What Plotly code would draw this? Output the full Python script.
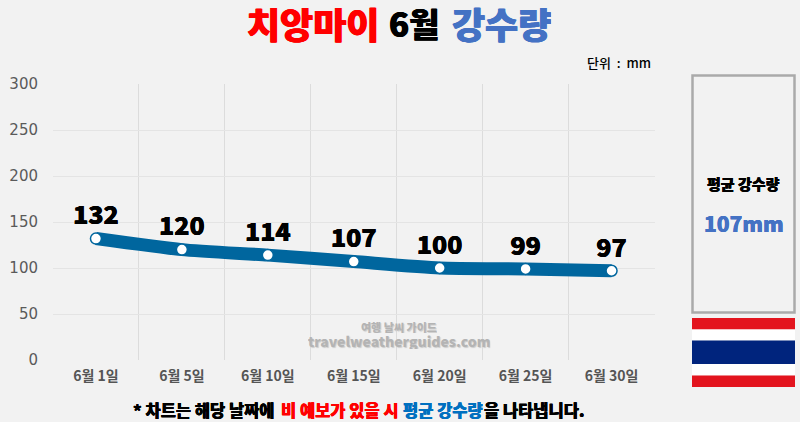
import plotly.graph_objects as go

days = ["6월 1일", "6월 5일", "6월 10일", "6월 15일", "6월 20일", "6월 25일", "6월 30일"]
rain = [132, 120, 114, 107, 100, 99, 97]
y_ticks = [0, 50, 100, 150, 200, 250, 300]

W, H = 800, 422
KR = "Noto Sans CJK KR"
BLUE_TXT = "#4472c4"
RED = "#ff0000"


def px(x):
    return x / W


def py(y):
    return 1 - y / H


def fat(c, d=0.5):
    return f"{d}px 0 0 {c}, -{d}px 0 0 {c}"


fig = go.Figure()
fig.add_trace(go.Scatter(
    x=days, y=rain, mode="lines+markers+text", cliponaxis=False,
    line=dict(color="#00669e", width=13, shape="spline", smoothing=0.6),
    marker=dict(color="white", size=11, line=dict(color="#00669e", width=1.5)),
    text=[str(v) for v in rain], textposition="top center",
    textfont=dict(family=KR, size=25, color="black", weight=900, shadow=fat("black", 0.3)),
    hoverinfo="skip", showlegend=False,
))

shapes = []


def rect(x0, y0, x1, y1, fill, line=None, lw=0):
    shapes.append(dict(type="rect", xref="paper", yref="paper", layer="below",
                       x0=px(x0), x1=px(x1), y0=py(y0), y1=py(y1), fillcolor=fill,
                       line=dict(color=line or fill, width=lw)))


rect(692.5, 75.5, 794.5, 312.5, "#f2f2f2", "#aaaaaa", 2.5)
rect(692, 318, 795, 329.5, "#e3141e")
rect(692, 329.5, 795, 340.5, "#ffffff")
rect(692, 340.5, 795, 364, "#00247d")
rect(692, 364, 795, 375.5, "#ffffff")
rect(692, 375.5, 795, 387, "#e3141e")

anns = []


def text(x, y, s, size, color="black", weight=700, anchor="center", shadow=None, height=None):
    f = dict(family=KR, size=size, color=color, weight=weight)
    if shadow:
        f["shadow"] = shadow
    a = dict(xref="paper", yref="paper", x=px(x), y=py(y), text=s, showarrow=False,
             xanchor=anchor, yanchor="middle", font=f)
    if height:
        a.update(height=height, borderpad=0, borderwidth=0)
    anns.append(a)


text(312.5, 23, "치앙마이", 36, RED, 900, shadow=fat(RED, 0.5), height=44)
text(414, 23, "6월", 33, "black", 900, shadow=fat("black", 0.4), height=44)
text(501, 23, "강수량", 36, BLUE_TXT, 900, shadow=fat(BLUE_TXT, 0.5), height=44)
text(619, 63, "단위\u00a0\u00a0:\u00a0\u00a0mm", 13, weight=500)
text(743.5, 183, "평균 강수량", 15, weight=900, shadow=fat("black", 0.2))
text(743.5, 223, "107mm", 21, color=BLUE_TXT, weight=900, shadow=fat(BLUE_TXT, 0.2))
wm = "1px 1px 1px #cccccc"
text(399, 326, "여행 날씨 가이드", 11, color="#b4b4b4", weight=900, shadow=wm, height=13)
text(399, 341, "travelweatherguides.com", 14, color="#b4b4b4", weight=900, shadow=wm, height=16)
text(204, 410, "* 차트는 해당 날짜에", 16.5, weight=900, shadow=fat("black", 0.2))
text(340, 410, "비 예보가 있을 시", 16.5, color=RED, weight=900, shadow=fat(RED, 0.2))
text(443, 410, "평균 강수량", 16.5, color="#0070c0", weight=900, shadow=fat("#0070c0", 0.2))
text(534, 410, "을 나타냅니다.", 16.5, weight=900, shadow=fat("black", 0.2))

fig.update_layout(
    width=W, height=H, autosize=False,
    margin=dict(l=0, r=0, t=0, b=0),
    paper_bgcolor="#f2f2f2", plot_bgcolor="#f2f2f2",
    shapes=shapes, annotations=anns,
    xaxis=dict(domain=[px(53), px(654.5)], type="category", tickson="boundaries", automargin=False,
               range=[-0.5, 6.5], showgrid=True, gridcolor="#dcdcdc", gridwidth=1,
               zeroline=False, showline=False, ticks="", ticklen=0, ticklabelstandoff=6,
               tickfont=dict(family=KR, size=14, color="#555555", weight=700)),
    yaxis=dict(domain=[py(360), py(84)], range=[0, 300], tickvals=y_ticks, automargin=False,
               showgrid=True, gridcolor="#e4e4e4", gridwidth=1, zeroline=False,
               showline=False, ticks="", ticklabelstandoff=14,
               tickfont=dict(family="DejaVu Sans", size=15, color="#5a5a5a")),
)

fig.write_html(
    "out.html",
    config=dict(displayModeBar=False),
    post_script="document.body.style.margin='0';document.body.style.background='#f2f2f2';"
                "Plotly.relayout(document.getElementById('{plot_id}'),{width:800,height:422});",
)
